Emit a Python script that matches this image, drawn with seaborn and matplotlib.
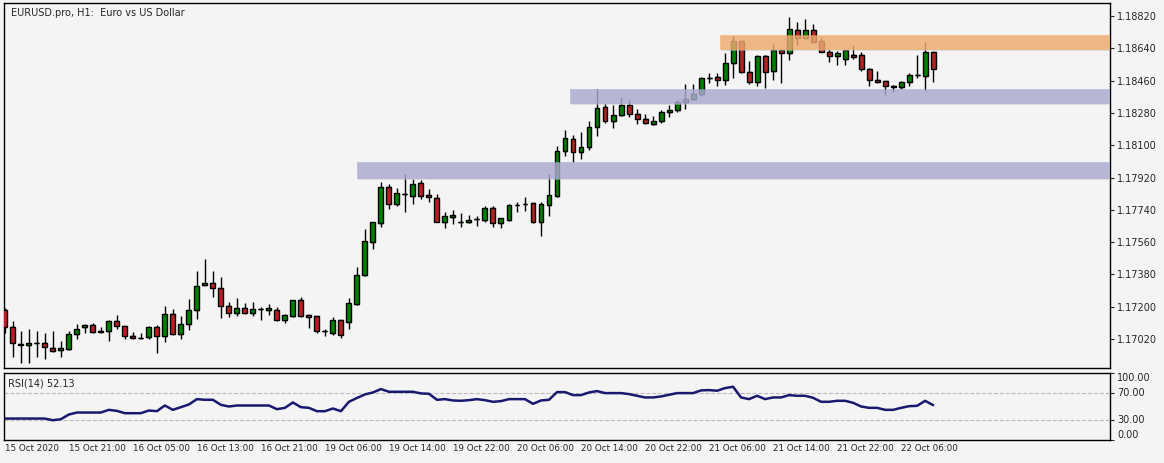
import matplotlib.pyplot as plt
import matplotlib.patches as mpatches
import numpy as np
import pandas as pd
import seaborn as sns

# EURUSD H1 prices, in 1e-5 units (points)
opens = [117182, 117088, 116993, 116987, 116998, 116998, 116971, 116960, 116965, 117049,
         117088, 117099, 117065, 117065, 117121, 117093, 117038, 117026, 117032, 117088,
         117038, 117160, 117049, 117104, 117182, 117322, 117333, 117305, 117205, 117166,
         117193, 117166, 117188, 117182, 117182, 117127, 117149, 117238, 117154, 117149,
         117065, 117054, 117127, 117115, 117216, 117377, 117561, 117667, 117867, 117773,
         117828, 117817, 117890, 117823, 117806, 117672, 117700, 117672, 117672, 117689,
         117684, 117750, 117667, 117684, 117767, 117773, 117778, 117672, 117767, 117817,
         118068, 118135, 118062, 118090, 118202, 118313, 118235, 118268, 118324, 118274,
         118246, 118218, 118235, 118285, 118296, 118341, 118358, 118385, 118475, 118480,
         118463, 118558, 118681, 118508, 118452, 118597, 118514, 118631, 118614, 118742,
         118697, 118742, 118681, 118619, 118597, 118580, 118603, 118603, 118525, 118463,
         118458, 118430, 118424, 118452, 118491, 118486, 118619]
closes = [117088, 116998, 116987, 116998, 116995, 116976, 116954, 116971, 117049, 117076,
          117099, 117060, 117060, 117121, 117093, 117038, 117026, 117023, 117088, 117038,
          117160, 117049, 117104, 117182, 117316, 117333, 117305, 117205, 117166, 117193,
          117166, 117188, 117185, 117193, 117127, 117154, 117238, 117149, 117143, 117065,
          117062, 117127, 117043, 117221, 117377, 117567, 117672, 117867, 117773, 117834,
          117826, 117884, 117817, 117812, 117672, 117706, 117711, 117669, 117684, 117686,
          117750, 117667, 117695, 117767, 117770, 117775, 117672, 117773, 117823, 118068,
          118140, 118062, 118090, 118202, 118307, 118235, 118268, 118324, 118274, 118246,
          118224, 118235, 118285, 118296, 118341, 118358, 118385, 118475, 118472, 118463,
          118558, 118681, 118508, 118452, 118597, 118508, 118631, 118614, 118748, 118697,
          118742, 118675, 118619, 118597, 118614, 118631, 118592, 118525, 118463, 118452,
          118430, 118424, 118452, 118491, 118488, 118619, 118525]
highs = [117193, 117121, 117065, 117076, 117065, 117054, 117065, 117010, 117065, 117104,
         117104, 117110, 117088, 117127, 117154, 117093, 117060, 117054, 117093, 117099,
         117205, 117188, 117149, 117244, 117400, 117466, 117400, 117366, 117227, 117249,
         117221, 117227, 117199, 117216, 117199, 117160, 117238, 117255, 117154, 117149,
         117076, 117143, 117127, 117249, 117422, 117633, 117672, 117895, 117884, 117862,
         117940, 117912, 117906, 117856, 117828, 117728, 117739, 117723, 117711, 117706,
         117762, 117762, 117695, 117773, 117784, 117812, 117778, 117784, 117940, 118096,
         118185, 118157, 118174, 118235, 118413, 118335, 118324, 118369, 118352, 118302,
         118274, 118263, 118296, 118324, 118352, 118441, 118441, 118480, 118502, 118502,
         118614, 118709, 118681, 118569, 118603, 118603, 118664, 118636, 118814, 118787,
         118803, 118775, 118703, 118636, 118625, 118631, 118658, 118619, 118530, 118514,
         118458, 118436, 118458, 118502, 118603, 118675, 118619]
lows = [117054, 116920, 116887, 116887, 116920, 116909, 116948, 116920, 116960, 117021,
        117054, 117054, 117054, 117010, 117076, 117021, 117021, 117021, 117021, 116943,
        117004, 117043, 117021, 117071, 117132, 117322, 117255, 117138, 117143, 117149,
        117160, 117149, 117127, 117154, 117121, 117110, 117143, 117143, 117082, 117054,
        117038, 117043, 117026, 117076, 117210, 117372, 117522, 117645, 117745, 117762,
        117728, 117773, 117801, 117784, 117672, 117639, 117661, 117645, 117667, 117650,
        117672, 117645, 117639, 117678, 117728, 117734, 117667, 117595, 117706, 117812,
        118040, 118007, 118023, 118074, 118152, 118224, 118196, 118263, 118257, 118218,
        118218, 118213, 118224, 118257, 118285, 118302, 118352, 118374, 118447, 118430,
        118436, 118475, 118502, 118441, 118430, 118419, 118463, 118447, 118575, 118658,
        118692, 118670, 118619, 118564, 118547, 118547, 118580, 118514, 118430, 118447,
        118380, 118397, 118413, 118430, 118475, 118402, 118452]
rsi = [32, 32, 32, 32, 32, 32, 29.5, 31, 38, 41, 41, 41, 41, 45, 43.5, 40, 40, 40, 44, 43,
       51.5, 45, 49, 53, 61, 60, 60, 52.5, 50, 51.5, 51.5, 51.5, 51.5, 51.5, 46, 48, 56, 49, 48, 43,
       43, 47, 43, 57, 62.7, 68, 71, 76, 72, 72, 72, 72, 69.5, 69, 60, 61, 59, 58.5, 59.5, 61,
       59.5, 57, 58, 61, 61, 61, 54, 59, 60, 71.5, 71.5, 67, 67, 71, 73, 70, 70, 70, 68.5, 66,
       63.5, 63.5, 65, 67.5, 70, 70, 70, 74, 74.5, 73.5, 77.5, 79.5, 63.5, 61, 66, 61, 63.5, 63.5,
       67, 66, 66, 63, 57, 57, 58.5, 58.5, 55.5, 50, 48, 48, 45, 45, 48, 50.5, 51, 58.5, 52]

price_ticks = [1.18820, 1.18640, 1.18460, 1.18280, 1.18100, 1.17920,
               1.17740, 1.17560, 1.17380, 1.17200, 1.17020]
rsi_ticks = [100, 70, 30, 0]
time_labels = ['15 Oct 2020', '15 Oct 21:00', '16 Oct 05:00', '16 Oct 13:00', '16 Oct 21:00',
               '19 Oct 06:00', '19 Oct 14:00', '19 Oct 22:00', '20 Oct 06:00', '20 Oct 14:00',
               '20 Oct 22:00', '21 Oct 06:00', '21 Oct 14:00', '21 Oct 22:00', '22 Oct 06:00']
# zones: (start bar, low, high, colour)
zones = [(44, 1.17912, 1.18007, '#a4a4d2'),
         (70.6, 1.18330, 1.18413, '#a4a4d2'),
         (89.4, 1.18631, 1.18714, '#f8a45a')]

df = pd.DataFrame({'o': np.array(opens) / 1e5, 'c': np.array(closes) / 1e5,
                   'h': np.array(highs) / 1e5, 'l': np.array(lows) / 1e5})
df['bar'] = np.arange(len(df))
df['rsi'] = rsi

sns.set_style('white')
plt.rcParams['font.family'] = ['DejaVu Sans']
bg = '#f4f4f4'
W, H = 1164, 463
fig = plt.figure(figsize=(W / 100, H / 100), dpi=100, facecolor=bg)
ax = fig.add_axes([4 / W, 1 - 368 / H, 1106 / W, 365 / H], facecolor=bg)
ax2 = fig.add_axes([4 / W, 1 - 440 / H, 1106 / W, 67 / H], facecolor=bg)

# candles
up = df.c >= df.o
ax.vlines(df.bar, df.l, df.h, color='black', lw=1, zorder=2)
ax.bar(df.bar, (df.c - df.o).where((df.c - df.o).abs() > 0.00003, 0.00002), bottom=df.o,
       width=0.62, color=np.where(up, '#008000', '#b22222'), edgecolor='black', lw=1, zorder=3)
ax.hlines(df.o, df.bar - 0.31, df.bar + 0.31, color='black', lw=1, zorder=2)

xmax = 138.1
for x0, lo, hi, col in zones:
    ax.add_patch(mpatches.Rectangle((x0 + 0.15, lo - 0.00004), xmax - x0, hi - lo,
                                    color='#c8c8c8', alpha=0.5, zorder=3.5, lw=0))
    ax.add_patch(mpatches.Rectangle((x0, lo), xmax - x0, hi - lo, color=col,
                                    alpha=0.65, zorder=4, lw=0))

ax.set_xlim(-0.1, xmax)
ax.set_ylim(1.16859, 1.18892)
ax.yaxis.tick_right()
ax.set_yticks(price_ticks)
ax.set_yticklabels(['%.5f' % p for p in price_ticks], fontsize=7)
ax.set_xticks([])
ax.tick_params(axis='y', length=3, width=0.8, pad=2)
ax.text(0.006, 0.985, 'EURUSD.pro, H1:  Euro vs US Dollar', transform=ax.transAxes,
        fontsize=7, va='top')

# RSI panel
sns.lineplot(data=df, x='bar', y='rsi', ax=ax2, color='#191970', lw=1.8)
for lvl in (30, 70):
    ax2.axhline(lvl, color='#bbbbbb', lw=0.8, ls='--', zorder=0)
ax2.set_xlim(-0.1, xmax)
ax2.set_ylim(0, 100)
ax2.yaxis.tick_right()
ax2.set_yticks(rsi_ticks)
ax2.set_yticklabels(['%.2f' % v for v in rsi_ticks], fontsize=7)
for lab, va in zip(ax2.get_yticklabels(), ['top', 'center', 'center', 'bottom']):
    lab.set_va(va)
ax2.tick_params(axis='y', length=3, width=0.8, pad=2)
ax2.set_xticks(np.arange(0, len(time_labels) * 8, 8))
ax2.set_xticklabels(time_labels, fontsize=6.3, ha='left')
ax2.tick_params(axis='x', direction='in', length=4, width=0.8, pad=3)
ax2.set_xlabel('')
ax2.set_ylabel('')
ax2.text(0.004, 0.92, 'RSI(14) 52.13', transform=ax2.transAxes, fontsize=7, va='top')

for a in (ax, ax2):
    for s in a.spines.values():
        s.set_color('black')
        s.set_linewidth(1)

fig.savefig('out.png', dpi=100, facecolor=bg)
